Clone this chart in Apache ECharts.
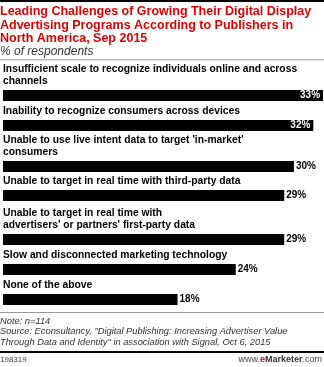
<!DOCTYPE html>
<html>
<head>
<meta charset="utf-8">
<script src="https://cdn.jsdelivr.net/npm/echarts@6/dist/echarts.min.js"></script>
<style>html,body{margin:0;padding:0;background:#fff;}#c{width:324px;height:367px;}</style>
</head>
<body>
<div id="c"></div>
<script>
const categories = [
  "Insufficient scale to recognize individuals online and across\nchannels",
  "Inability to recognize consumers across devices",
  "Unable to use live intent data to target 'in-market'\nconsumers",
  "Unable to target in real time with third-party data",
  "Unable to target in real time with\nadvertisers' or partners' first-party data",
  "Slow and disconnected marketing technology",
  "None of the above"
];
const values = [33, 32, 30, 29, 29, 24, 18];
const titleText = "Leading Challenges of Growing Their Digital Display\nAdvertising Programs According to Publishers in\nNorth America, Sep 2015";
const subtitleText = "% of respondents";
const noteLines = [
  "Note: n=114",
  "Source: Econsultancy, \"Digital Publishing: Increasing Advertiser Value",
  "Through Data and Identity\" in association with Signal, Oct 6, 2015"
];
const chartId = "198319";

// layout
const barTops = [90, 120, 161, 190, 234, 264, 294];
const barH = 11;
const xMax = 33.1;
const FONT = "'Liberation Sans', Arial, sans-serif";

const grids = [], xAxes = [], yAxes = [], series = [];
categories.forEach((cat, i) => {
  grids.push({ left: 0, right: 0, top: barTops[i], height: barH, containLabel: false });
  xAxes.push({ type: 'value', gridIndex: i, min: 0, max: xMax, show: false });
  yAxes.push({
    type: 'category', gridIndex: i, data: [cat],
    axisLine: { show: false }, axisTick: { show: false }, axisLabel: { show: false },
    name: cat, nameLocation: 'end', nameGap: 3,
    nameTextStyle: { align: 'left', verticalAlign: 'bottom', fontFamily: FONT, fontWeight: 'bold',
      fontSize: 10.3, color: '#000', lineHeight: 12, padding: 0 }
  });
  const inside = values[i] >= 31;
  series.push({
    type: 'bar', xAxisIndex: i, yAxisIndex: i, barWidth: barH, silent: true,
    data: [values[i]],
    itemStyle: { color: '#000' },
    label: {
      show: true, position: inside ? 'insideRight' : 'right', distance: inside ? 3 : 2,
      formatter: '{c}%', fontFamily: FONT, fontWeight: 'bold', fontSize: 10,
      color: inside ? '#fff' : '#000'
    }
  });
});

const chart = echarts.init(document.getElementById('c'), null, { renderer: 'canvas' });
chart.setOption({
  animation: false,
  backgroundColor: '#fff',
  grid: grids, xAxis: xAxes, yAxis: yAxes, series: series,
  graphic: [
    { type: 'rect', shape: { x: 0, y: 0, width: 324, height: 2 }, style: { fill: '#000' } },
    { type: 'text', left: 0, top: 5, style: { text: titleText, font: "bold 12.5px " + FONT, fill: '#e00000', lineHeight: 13.5 } },
    { type: 'text', left: 0, top: 45, style: { text: subtitleText, font: "italic 12px " + FONT, fill: '#333', lineHeight: 13 } },
    { type: 'rect', shape: { x: 0, y: 59, width: 324, height: 1.5 }, style: { fill: '#bbb' } },
    { type: 'rect', shape: { x: 0, y: 312, width: 324, height: 1 }, style: { fill: '#999' } },
    { type: 'text', left: 0, top: 316, style: { text: noteLines.join('\n'), font: "italic 9.3px " + FONT, fill: '#333', lineHeight: 10.5 } },
    { type: 'rect', shape: { x: 0, y: 351, width: 324, height: 2 }, style: { fill: '#000' } },
    { type: 'text', left: 0, top: 356, style: { text: chartId, font: "8px " + FONT, fill: '#444' } },
    { type: 'text', right: 2, top: 355, style: {
      rich: {
        a: { font: "9px " + FONT, fill: '#444' },
        e: { font: "bold 9px " + FONT, fill: '#e00000' },
        m: { font: "bold 9px " + FONT, fill: '#333' }
      },
      text: "{a|www.}{e|e}{m|Marketer}{a|.com}"
    } }
  ]
});
</script>
</body>
</html>
